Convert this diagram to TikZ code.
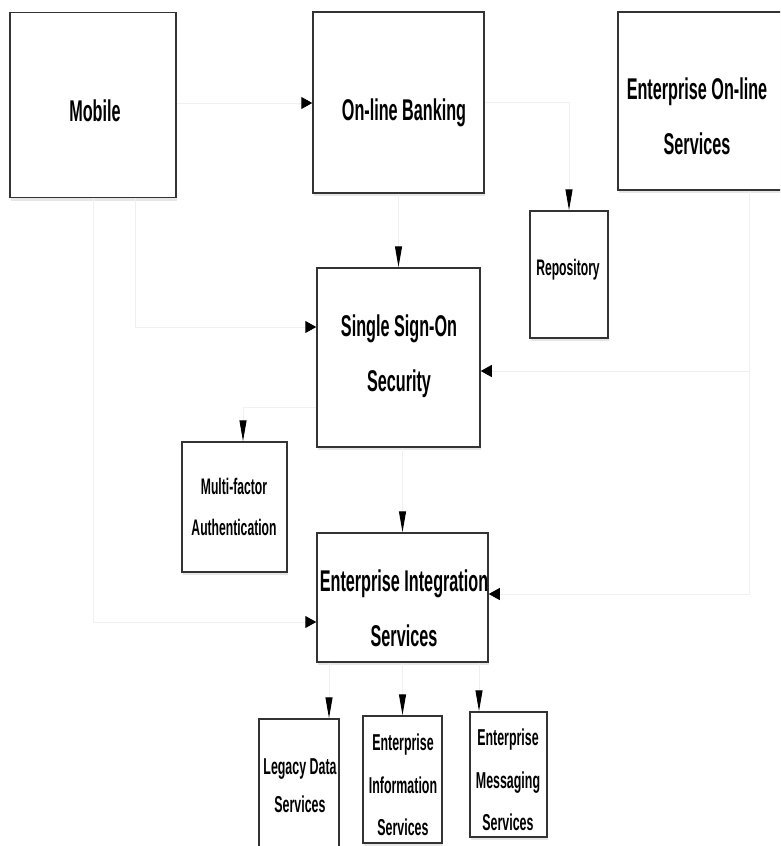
\documentclass[tikz,border=0pt]{standalone}
\usepackage{fontspec}
\setmainfont{Liberation Sans}[FakeStretch=0.54]
\usetikzlibrary{arrows.meta,shadows}
\begin{document}
\begin{tikzpicture}[x=1pt,y=-1pt,
  box/.style={draw=black!80, line width=1.5pt, fill=white, inner sep=0pt,
    drop shadow={shadow xshift=1pt, shadow yshift=-3pt, opacity=0.2}},
  bigtxt/.style={font=\bfseries\fontsize{30}{55}\selectfont, align=center, inner sep=0pt},
  midtxt/.style={font=\bfseries\fontsize{22.5}{41}\selectfont, align=center, inner sep=0pt},
  smalltxt/.style={font=\bfseries\fontsize{23}{42.5}\selectfont, align=center, inner sep=0pt},
  conn/.style={draw=black!6, line width=1pt},
  vtip/.style={-{Triangle[length=21pt,width=7pt,color=black]}},
  htip/.style={-{Triangle[length=11pt,width=12pt,color=black]}}
]
\useasboundingbox (0,0) rectangle (780,846);
\clip (0,0) rectangle (780,846);

% boxes
\node[box, minimum width=166pt, minimum height=185pt] (mobile) at (93,105) {};
\node[box, minimum width=171pt, minimum height=181pt] (bank) at (398.5,102.5) {};
\node[box, minimum width=176pt, minimum height=178pt] (eos) at (706,101) {};
\node[box, minimum width=78pt, minimum height=127pt] (rep) at (569,274.5) {};
\node[box, minimum width=163pt, minimum height=179pt] (sso) at (398.5,357.5) {};
\node[box, minimum width=105pt, minimum height=130pt] (mfa) at (234.5,507) {};
\node[box, minimum width=171pt, minimum height=129pt] (eis) at (402.5,597.5) {};
\node[box, minimum width=80pt, minimum height=134pt] (leg) at (299,786) {};
\node[box, minimum width=79pt, minimum height=127pt] (ein) at (402.5,779.5) {};
\node[box, minimum width=77pt, minimum height=125pt] (emg) at (508.5,774.5) {};

% labels
\node[bigtxt] (mobile-t) at (95,111) {Mobile};
\node[bigtxt] (bank-t) at (404,113) {On-line Banking};
\node[bigtxt] (eos-t) at (697,116) {Enterprise On-line\\Services};
\node[midtxt] (rep-t) at (568,270) {Repository};
\node[bigtxt] (sso-t) at (399,356) {Single Sign-On\\Security};
\node[midtxt] (mfa-t) at (234,507) {Multi-factor\\Authentication};
\node[bigtxt] (eis-t) at (404,608) {Enterprise Integration\\Services};
\node[smalltxt, font=\bfseries\fontsize{23}{38}\selectfont] (leg-t) at (300,786) {Legacy Data\\Services};
\node[smalltxt] (ein-t) at (403,785) {Enterprise\\Information\\Services};
\node[smalltxt] (emg-t) at (508,780) {Enterprise\\Messaging\\Services};

% connectors
\draw[conn,htip] ([yshift=2pt]mobile.east) -- ([yshift=2pt]mobile.east -| bank.west);
\draw[conn,htip] ([xshift=42pt]mobile.south) |- ([yshift=30.5pt]sso.west);
\draw[conn,htip] (mobile.south) |- ([yshift=-24.5pt]eis.west);
\draw[conn,vtip] (bank.south) -- (sso.north);
\draw[conn,vtip] (bank.east) -| (rep.north);
\draw[conn,htip] ([xshift=43pt]eos.south) |- ([yshift=-13.5pt]sso.east);
\draw[conn,htip] ([xshift=43pt]eos.south) |- ([yshift=3.5pt]eis.east);
\draw[conn,vtip] ([yshift=-50pt]sso.west) -| ([xshift=8.5pt]mfa.north);
\draw[conn,vtip] (eis.north |- sso.south) -- (eis.north);
\draw[conn,vtip] ([xshift=30pt]leg.north |- eis.south) -- ([xshift=30pt]leg.north);
\draw[conn,vtip] (ein.north |- eis.south) -- (ein.north);
\draw[conn,vtip] ([xshift=-29.5pt]emg.north |- eis.south) -- ([xshift=-29.5pt]emg.north);
\end{tikzpicture}
\end{document}
